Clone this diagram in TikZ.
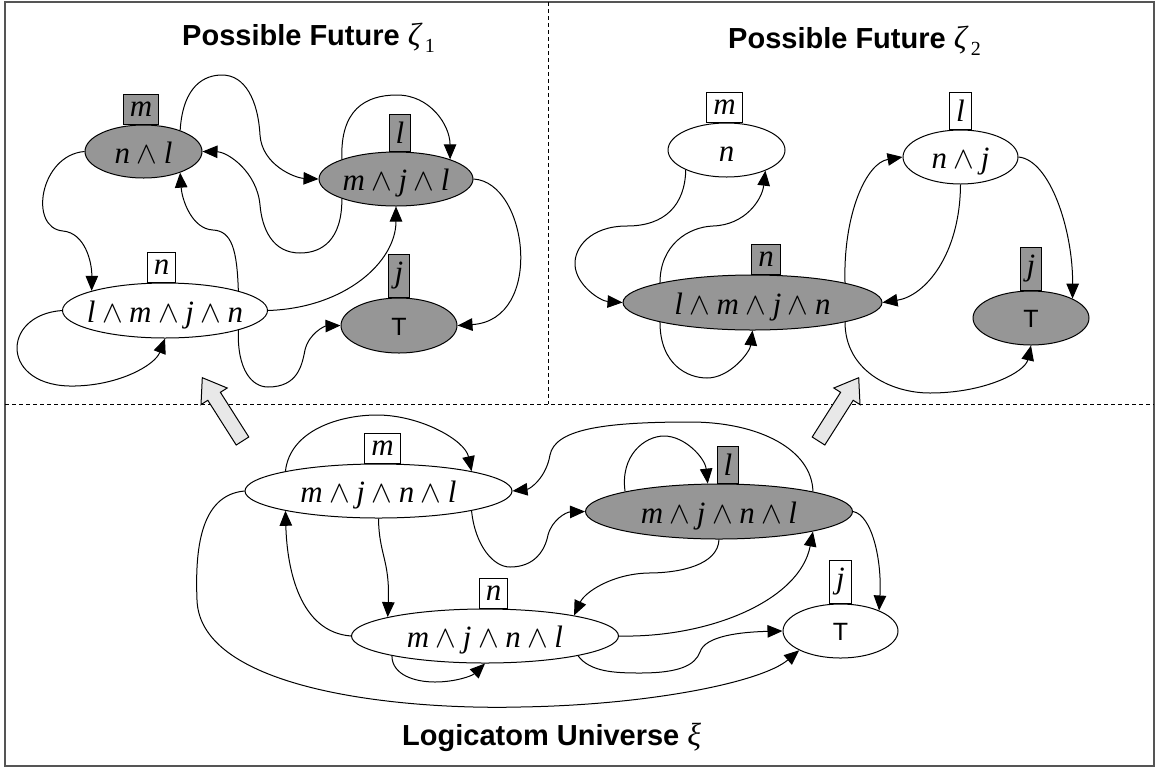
\RequirePackage{fix-cm}
\documentclass[tikz,border=0pt]{standalone}
\usepackage{fontspec}
\setmainfont{Liberation Serif}
\newfontfamily\sansf{Liberation Sans}
\usetikzlibrary{shapes.geometric,arrows.meta}
\definecolor{nodegray}{RGB}{150,150,150}
\definecolor{arrfill}{RGB}{232,232,232}
\definecolor{framec}{RGB}{85,85,85}
\newcommand{\ww}{\hspace{0.21em}$\wedge$\hspace{0.21em}}
\newcommand{\zt}[1]{{\rmfamily\mdseries\itshape\fontsize{32}{36}\selectfont ζ}\hspace{4pt}\raisebox{-7pt}{\rmfamily\mdseries\upshape\fontsize{20}{22}\selectfont #1}}
\tikzset{
  st/.style={ellipse, draw, line width=1pt, inner sep=0pt, font=\fontsize{31}{36}\selectfont\itshape, text height=23.4pt, text depth=0pt},
  tnode/.style={ellipse, draw, line width=1pt, inner sep=0pt, font=\sansf\fontsize{25}{30}\selectfont, text height=19pt, text depth=0pt},
  gr/.style={fill=nodegray},
  wh/.style={fill=white},
  lab/.style={draw, line width=1pt, anchor=south, inner xsep=6.5pt, inner ysep=7.5pt, font=\fontsize{31}{36}\selectfont\itshape},
  edge/.style={draw, line width=1pt, -{Triangle[length=15pt,width=12.5pt]}},
  ttl/.style={anchor=base west, inner sep=0pt, font=\sansf\bfseries\fontsize{29}{34}\selectfont},
  sep/.style={line width=1pt, dash pattern=on 4pt off 3pt},
  bigarrow/.style={draw, line width=1pt, fill=arrfill, line join=miter}
}
\begin{document}
\begin{tikzpicture}[x=1pt,y=-1pt]
\useasboundingbox (0,0) rectangle (1161,769);
% frame and separators
\draw[framec, line width=2pt] (5,2) rectangle (1154,766);
\draw[sep] (5,404) -- (1154,404);
\draw[sep] (548.5,2) -- (548.5,404);

% titles
\node[ttl] (title1) at (182,45) {Possible Future \zt{1}};
\node[ttl] (title2) at (728,48) {Possible Future \zt{2}};
\node[ttl] (title3) at (402,745) {Logicatom Universe {\rmfamily\mdseries\itshape\fontsize{32}{36}\selectfont ξ}};

% ---------- top-left panel ----------
\node[st,gr,minimum width=117pt,minimum height=53pt] (nl) at (143.5,151.5) {\makebox[0pt]{n\ww l}};
\node[st,gr,minimum width=154pt,minimum height=54pt] (mjl) at (396,179) {\makebox[0pt]{m\ww j\ww l}};
\node[st,wh,minimum width=205pt,minimum height=55pt] (lmjn1) at (165,310.5) {\makebox[0pt]{l\ww m\ww j\ww n}};
\node[tnode,gr,minimum width=116pt,minimum height=55pt] (tt1) at (399,325.5) {T};
\node[lab,gr] (nl-lab) at ([xshift=-2.5pt]nl.north) {m};
\node[lab,gr] (mjl-lab) at ([xshift=4pt]mjl.north) {l};
\node[lab,wh] (lmjn1-lab) at ([xshift=-3.5pt]lmjn1.north) {n};
\node[lab,gr] (tt1-lab) at (tt1.north) {j};

\draw[edge] (nl.west) .. controls (40,155) and (28,228) .. (63,231) .. controls (85,233) and (92,262) .. (lmjn1.165);
\draw[edge] (nl.30) .. controls (183,85) and (205,75) .. (222,75) .. controls (245,75) and (258,100) .. (260,135) .. controls (262,165) and (295,178) .. (mjl.west);
\draw[edge] (mjl.200) .. controls (342,240) and (322,253) .. (300,253) .. controls (272,253) and (262,228) .. (260,205) .. controls (257,172) and (228,152) .. (nl.east);
\draw[edge] (lmjn1.15) .. controls (237,250) and (232,231) .. (213,230) .. controls (192,229) and (182,200) .. (nl.-30);
\draw[edge] (mjl.160) .. controls (340,110) and (365,95) .. (397,95) .. controls (430,95) and (450,125) .. (mjl.20);
\draw[edge] (mjl.east) .. controls (528,182) and (545,320) .. (tt1.east);
\draw[edge] (lmjn1.east) .. controls (345,308) and (396,262) .. (mjl.south);
\draw[edge] (lmjn1.west) .. controls (0,315) and (0,388) .. (75,386) .. controls (120,385) and (155,365) .. (lmjn1.south);
\draw[edge] (lmjn1.-15) .. controls (237,370) and (252,387) .. (268,387) .. controls (298,387) and (302,365) .. (305,350) .. controls (309,333) and (325,326) .. (tt1.west);

% ---------- top-right panel ----------
\node[st,wh,minimum width=117pt,minimum height=54pt] (n2) at (726.5,150) {\makebox[0pt]{n}};
\node[st,wh,minimum width=115pt,minimum height=54pt] (nj) at (960.5,157) {\makebox[0pt]{n\ww j}};
\node[st,gr,minimum width=259pt,minimum height=55pt] (lmjn2) at (752.5,302.5) {\makebox[0pt]{l\ww m\ww j\ww n}};
\node[tnode,gr,minimum width=116pt,minimum height=54pt] (tt2) at (1031,318) {T};
\node[lab,wh] (n2-lab) at ([xshift=-2pt]n2.north) {m};
\node[lab,wh] (nj-lab) at (nj.north) {l};
\node[lab,gr] (lmjn2-lab) at ([xshift=13.5pt]lmjn2.north) {n};
\node[lab,gr] (tt2-lab) at (tt2.north) {j};

\draw[edge] (n2.206) .. controls (685,205) and (665,226) .. (627,226) .. controls (590,226) and (574,248) .. (575,265) .. controls (576,285) and (600,301) .. (lmjn2.west);
\draw[edge] (lmjn2.168) .. controls (660,245) and (688,227) .. (713,226) .. controls (745,225) and (762,200) .. (n2.-28);
\draw[edge] (lmjn2.192) .. controls (660,365) and (688,378) .. (707,378) .. controls (730,378) and (750,352) .. (lmjn2.south);
\draw[edge] (lmjn2.12) .. controls (843,215) and (866,163) .. (nj.west);
\draw[edge] (nj.south) .. controls (960,255) and (925,296) .. (lmjn2.east);
\draw[edge] (nj.east) .. controls (1050,160) and (1073,230) .. (tt2.25);
\draw[edge] (lmjn2.-12) .. controls (845,370) and (890,393) .. (930,393) .. controls (985,393) and (1025,372) .. (tt2.south);

% ---------- bottom panel ----------
\node[st,wh,minimum width=267pt,minimum height=54pt] (ua) at (378.5,491) {\makebox[0pt]{m\ww j\ww n\ww l}};
\node[st,gr,minimum width=267pt,minimum height=55pt] (ub) at (719,511.5) {\makebox[0pt]{m\ww j\ww n\ww l}};
\node[st,wh,minimum width=267pt,minimum height=54pt] (uc) at (485,636) {\makebox[0pt]{m\ww j\ww n\ww l}};
\node[tnode,wh,minimum width=115pt,minimum height=54pt] (ud) at (840.5,631) {T};
\node[lab,wh] (ua-lab) at ([xshift=4pt]ua.north) {m};
\node[lab,gr] (ub-lab) at ([xshift=9pt]ub.north) {l};
\node[lab,wh] (uc-lab) at ([xshift=8.5pt]uc.north) {n};
\node[lab,wh] (ud-lab) at (ud.north) {j};

\draw[edge] (ua.168) .. controls (290,430) and (340,415) .. (377,415) .. controls (420,415) and (465,440) .. (ua.12);
\draw[edge] (ua.-12) .. controls (475,545) and (493,567) .. (510,567) .. controls (535,567) and (545,550) .. (548,535) .. controls (552,520) and (566,512) .. (ub.west);
\draw[edge] (ub.12) .. controls (812,450) and (760,422) .. (690,422) .. controls (600,422) and (555,430) .. (550,455) .. controls (546,478) and (530,489) .. (ua.east);
\draw[edge] (ub.168) .. controls (620,455) and (645,436) .. (664,436) .. controls (685,436) and (705,458) .. (ub.112);
\draw[edge] (ua.south) .. controls (379,555) and (390,560) .. (uc.169);
\draw[edge] (uc.west) .. controls (300,632) and (287,570) .. (ua.192);
\draw[edge] (ua.west) .. controls (200,495) and (195,550) .. (197,600) .. controls (200,690) and (400,710) .. (520,707) .. controls (650,705) and (762,682) .. (ud.205);
\draw[edge] (uc.192) .. controls (392,675) and (415,682) .. (435,682) .. controls (455,682) and (472,676) .. (uc.south);
\draw[edge] (ub.south) .. controls (718,565) and (680,573) .. (648,573) .. controls (612,574) and (585,592) .. (uc.13);
\draw[edge] (uc.east) .. controls (710,638) and (800,600) .. (ub.-12);
\draw[edge] (uc.-12) .. controls (590,672) and (615,673) .. (640,673) .. controls (680,673) and (695,665) .. (700,652) .. controls (705,636) and (740,632) .. (ud.west);
\draw[edge] (ub.east) .. controls (872,515) and (882,560) .. (ud.28);

% big hollow arrows
\draw[bigarrow] (248.8,437.0) -- (220.4,392.3) -- (227.2,388.0) -- (202.3,377.7) -- (201.0,404.6) -- (207.8,400.3) -- (236.2,445.0) -- cycle;
\draw[bigarrow] (812.2,437.0) -- (840.6,392.3) -- (833.8,388.0) -- (858.7,377.7) -- (860.0,404.6) -- (853.2,400.3) -- (824.8,445.0) -- cycle;
\end{tikzpicture}
\end{document}
